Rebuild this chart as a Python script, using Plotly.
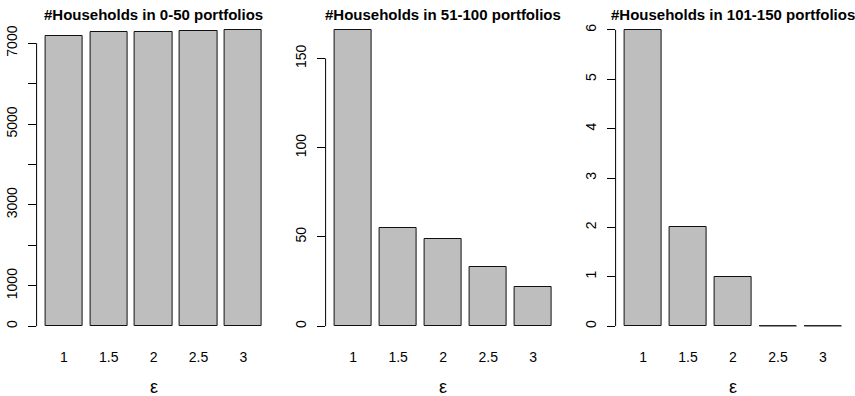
import plotly.graph_objects as go

# Epsilon levels shared by all three panels
eps_labels = ["1", "1.5", "2", "2.5", "3"]

# Number of households per portfolio-count bucket
households_0_50 = [7180, 7275, 7275, 7300, 7330]
households_51_100 = [166, 55, 49, 33, 22]
households_101_150 = [6, 2, 1, 0, 0]

panel_titles = [
    "#Households in 0-50 portfolios",
    "#Households in 51-100 portfolios",
    "#Households in 101-150 portfolios",
]

# Y tick positions and their labels (some ticks carry no label)
yticks_0_50 = [0, 1000, 2000, 3000, 4000, 5000, 6000, 7000]
ytick_text_0_50 = ["0", "1000", "", "3000", "", "5000", "", "7000"]
yticks_51_100 = [0, 50, 100, 150]
ytick_text_51_100 = ["0", "50", "100", "150"]
yticks_101_150 = [0, 1, 2, 3, 4, 5, 6]
ytick_text_101_150 = ["0", "1", "2", "3", "4", "5", "6"]

panels = [
    (households_0_50, yticks_0_50, ytick_text_0_50),
    (households_51_100, yticks_51_100, ytick_text_51_100),
    (households_101_150, yticks_101_150, ytick_text_101_150),
]

W, H = 855, 396
FONT = "Liberation Sans, Arial, sans-serif"
BAR_FILL = "#bebebe"

# Plot regions in pixels
x_regions = [(36.6, 270.7), (325.6, 560.7), (615.6, 850.4)]
y_region = (18.0, 338.0)  # top, bottom

# Bar geometry: unit width with 0.2 spacing, expressed in category-index units
SPACE = 0.2
bar_width = 1.0 / (1.0 + SPACE)

fig = go.Figure()
shapes = []
annotations = []

for k, (values, tvals, ttext) in enumerate(panels):
    n = len(values)
    xs = list(range(n))
    xa = "x" if k == 0 else f"x{k + 1}"
    ya = "y" if k == 0 else f"y{k + 1}"

    fig.add_trace(go.Bar(
        x=xs, y=values, width=bar_width,
        marker=dict(color=BAR_FILL, line=dict(color="#111111", width=1)),
        xaxis=xa, yaxis=ya, showlegend=False, hoverinfo="x+y",
    ))

    # Zero-height bars still show their outline as a flat line
    zx, zy = [], []
    for i, v in enumerate(values):
        if v == 0:
            zx += [i - bar_width / 2, i + bar_width / 2, None]
            zy += [v, v, None]
    if zx:
        fig.add_trace(go.Scatter(
            x=zx, y=zy, mode="lines", line=dict(color="#555555", width=1),
            xaxis=xa, yaxis=ya, showlegend=False, hoverinfo="skip",
        ))

    # Axis ranges following the 4% padding convention
    left_r = SPACE
    right_r = n * (1 + SPACE)
    pad_x = 0.04 * (right_r - left_r)
    x_lo = (left_r - pad_x - (SPACE + 0.5)) / (1 + SPACE)
    x_hi = (right_r + pad_x - (SPACE + 0.5)) / (1 + SPACE)
    ymax = max(values)
    y_lo, y_hi = -0.04 * ymax, 1.04 * ymax

    x0, x1 = x_regions[k]
    xdom = [x0 / W, x1 / W]
    ydom = [(H - y_region[1]) / H, (H - y_region[0]) / H]

    xkey = "xaxis" if k == 0 else f"xaxis{k + 1}"
    ykey = "yaxis" if k == 0 else f"yaxis{k + 1}"
    fig.update_layout({
        xkey: dict(
            domain=xdom, range=[x_lo, x_hi], anchor=ya,
            tickmode="array", tickvals=xs, ticktext=eps_labels,
            ticks="", showline=False, showgrid=False, zeroline=False,
            tickfont=dict(family=FONT, size=14, color="#000000"),
            ticklabelstandoff=9, fixedrange=True,
        ),
        ykey: dict(
            domain=ydom, range=[y_lo, y_hi], anchor=xa,
            tickmode="array", tickvals=tvals, ticktext=ttext,
            ticks="outside", ticklen=8, tickwidth=1, tickcolor="#000000",
            showline=False, showgrid=False, zeroline=False,
            tickangle=-90,
            tickfont=dict(family=FONT, size=14, color="#000000"),
            ticklabelstandoff=5, fixedrange=True,
        ),
    })

    # Y axis line spans only from the first to the last tick
    shapes.append(dict(
        type="line", xref=f"{xa} domain", yref=ya,
        x0=0, x1=0, y0=tvals[0], y1=tvals[-1],
        line=dict(color="#000000", width=1),
    ))

    annotations.append(dict(
        text=f"<b>{panel_titles[k]}</b>", xref=f"{xa} domain", x=0.5,
        yref="paper", y=(H - 14.5) / H, yanchor="middle", xanchor="center",
        showarrow=False, font=dict(family=FONT, size=15, color="#000000"),
    ))
    annotations.append(dict(
        text="ε", xref=f"{xa} domain", x=0.5,
        yref="paper", y=(H - 387) / H, yanchor="middle", xanchor="center",
        showarrow=False, font=dict(family=FONT, size=18, color="#000000"),
    ))

fig.update_layout(
    width=W, height=H,
    margin=dict(l=0, r=0, t=0, b=0),
    paper_bgcolor="#ffffff", plot_bgcolor="#ffffff",
    bargap=0, shapes=shapes, annotations=annotations,
)

fig.write_html("out.html")
